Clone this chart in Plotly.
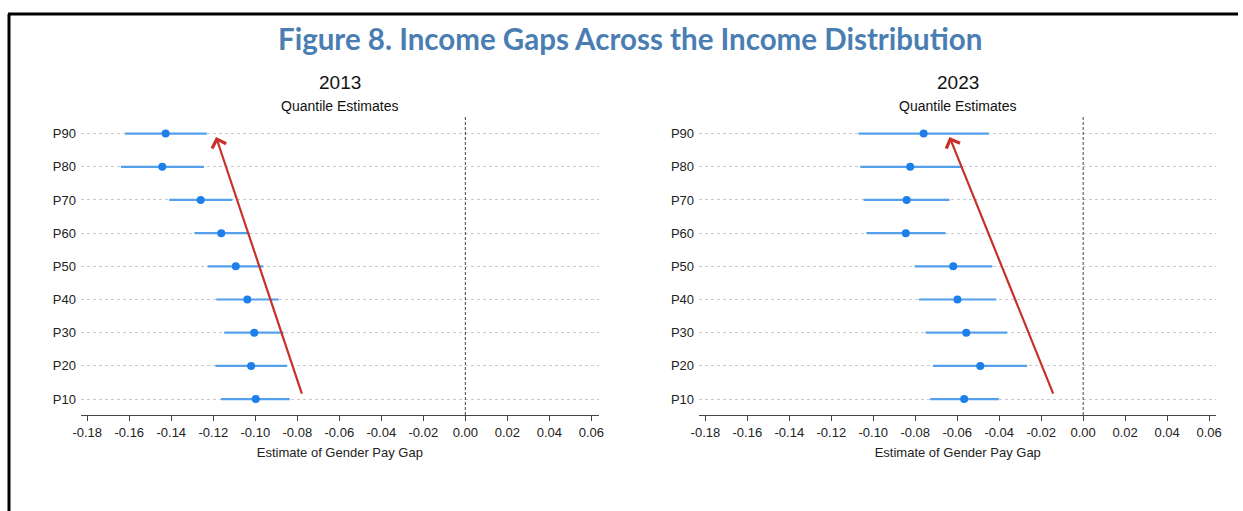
import numpy as np
import plotly.graph_objects as go

# Quantiles (bottom to top)
quantiles = ["P10", "P20", "P30", "P40", "P50", "P60", "P70", "P80", "P90"]

# 2013 quantile regression estimates and confidence bounds
est_2013 = [-0.0998, -0.1020, -0.1005, -0.1038, -0.1093, -0.1162, -0.1260, -0.1443, -0.1427]
lo_2013 = [-0.1163, -0.1190, -0.1148, -0.1186, -0.1227, -0.1290, -0.1410, -0.1640, -0.1620]
hi_2013 = [-0.0836, -0.0849, -0.0865, -0.0889, -0.0962, -0.1029, -0.1110, -0.1244, -0.1231]

# 2023 quantile regression estimates and confidence bounds
est_2023 = [-0.0567, -0.0490, -0.0557, -0.0599, -0.0619, -0.0845, -0.0841, -0.0824, -0.0760]
lo_2023 = [-0.0729, -0.0716, -0.0751, -0.0783, -0.0803, -0.1033, -0.1046, -0.1062, -0.1070]
hi_2023 = [-0.0402, -0.0267, -0.0362, -0.0414, -0.0433, -0.0656, -0.0637, -0.0581, -0.0450]

# Trend arrows: (tail x, tail y-index, head x, head y-index)
arrow_2013 = [-0.0776, 0.12, -0.1187, 7.9]
arrow_2023 = [-0.0140, 0.12, -0.0637, 7.9]

tick_vals = [-0.18, -0.16, -0.14, -0.12, -0.10, -0.08, -0.06, -0.04, -0.02, 0.00, 0.02, 0.04, 0.06]
tick_text = ["-0.18", "-0.16", "-0.14", "-0.12", "-0.10", "-0.08", "-0.06", "-0.04",
             "-0.02", "0.00", "0.02", "0.04", "0.06"]

W, H = 1243, 511
AX_FONT = "Liberation Sans Narrow, Arial Narrow, Liberation Sans, Arial, sans-serif"
DOT = "#1E7FEA"
BAR = "#55A0EC"
RED = "#C8302A"
AXIS_GREY = "#444444"


def px(x):
    """Horizontal pixel position -> paper fraction."""
    return ((x - 8) / 0.99) / W


x_range = [-0.183, 0.0635]
y_range = [-0.48, 8.5]
dom_left = [px(81), px(599)]
dom_right = [px(699.4), px(1217)]
y_dom = [1 - 415 / H, 1 - 117 / H]

fig = go.Figure()


def add_panel(est, lo, hi, xa, ya):
    est = np.array(est)
    fig.add_trace(go.Scatter(
        x=est, y=quantiles, xaxis=xa, yaxis=ya, mode="markers",
        marker=dict(color=DOT, size=8),
        error_x=dict(type="data", symmetric=False,
                     array=np.array(hi) - est, arrayminus=est - np.array(lo),
                     width=0, thickness=2.2, color=BAR),
        showlegend=False, hoverinfo="x+y",
    ))


add_panel(est_2013, lo_2013, hi_2013, "x", "y")
add_panel(est_2023, lo_2023, hi_2023, "x2", "y2")

xaxis_common = dict(
    range=x_range, tickvals=tick_vals, ticktext=tick_text,
    showgrid=False, zeroline=False, showline=True, linecolor=AXIS_GREY, linewidth=1,
    ticks="outside", ticklen=5, tickcolor=AXIS_GREY, tickwidth=1,
    tickfont=dict(family=AX_FONT, size=13, color="#222222"),
    title=dict(text="Estimate of Gender Pay Gap", standoff=9,
               font=dict(family=AX_FONT, size=13, color="#222222")),
)
yaxis_common = dict(
    range=y_range, type="category", categoryorder="array", categoryarray=quantiles,
    showgrid=True, gridcolor="#C9C9C9", griddash="dot", gridwidth=1,
    zeroline=False, showline=False, ticks="", ticklabelstandoff=4,
    tickfont=dict(family=AX_FONT, size=13, color="#222222"),
)

fig.update_layout(
    width=W, height=H, autosize=False,
    margin=dict(l=0, r=0, t=0, b=0),
    paper_bgcolor="white", plot_bgcolor="white",
    xaxis=dict(domain=dom_left, anchor="y", **xaxis_common),
    yaxis=dict(domain=y_dom, anchor="x", **yaxis_common),
    xaxis2=dict(domain=dom_right, anchor="y2", **xaxis_common),
    yaxis2=dict(domain=y_dom, anchor="x2", **yaxis_common),
)

# Dashed reference line at zero in each panel
for xr, yr in (("x", "y domain"), ("x2", "y2 domain")):
    fig.add_shape(type="line", xref=xr, yref=yr, x0=0, x1=0, y0=0, y1=1,
                  line=dict(color=AXIS_GREY, width=1, dash="3px,2px"))

# Trend arrows
for arr, xr, yr in ((arrow_2013, "x", "y"), (arrow_2023, "x2", "y2")):
    fig.add_annotation(x=arr[2], y=arr[3], ax=arr[0], ay=arr[1],
                       xref=xr, yref=yr, axref=xr, ayref=yr,
                       showarrow=True, arrowhead=4, arrowsize=1.3, arrowwidth=2.2,
                       arrowcolor=RED, standoff=0, text="")

# Figure title
fig.add_annotation(x=px(630), y=1 - 38 / H, xref="paper", yref="paper",
                   text="<b>Figure 8. Income Gaps Across the Income Distribution</b>",
                   showarrow=False, xanchor="center", yanchor="middle",
                   font=dict(family="Lato, Open Sans, sans-serif", size=29.5, color="#4A7EB2"))

# Panel titles
for dom, year in ((dom_left, "2013"), (dom_right, "2023")):
    cx = (dom[0] + dom[1]) / 2
    fig.add_annotation(x=cx, y=1 - 82 / H, xref="paper", yref="paper", text=year,
                       showarrow=False, xanchor="center", yanchor="middle",
                       font=dict(family=AX_FONT, size=19, color="#111111"))
    fig.add_annotation(x=cx, y=1 - 106 / H, xref="paper", yref="paper",
                       text="Quantile Estimates",
                       showarrow=False, xanchor="center", yanchor="middle",
                       font=dict(family=AX_FONT, size=14, color="#111111"))

# Frame lines along the top and left edges
fig.add_shape(type="line", xref="paper", yref="paper",
              x0=px(8), x1=1.0, y0=1 - 14 / H, y1=1 - 14 / H,
              line=dict(color="black", width=3))
fig.add_shape(type="line", xref="paper", yref="paper",
              x0=px(9), x1=px(9), y0=0, y1=1 - 14 / H,
              line=dict(color="black", width=3))

fig.write_html("out.html")
